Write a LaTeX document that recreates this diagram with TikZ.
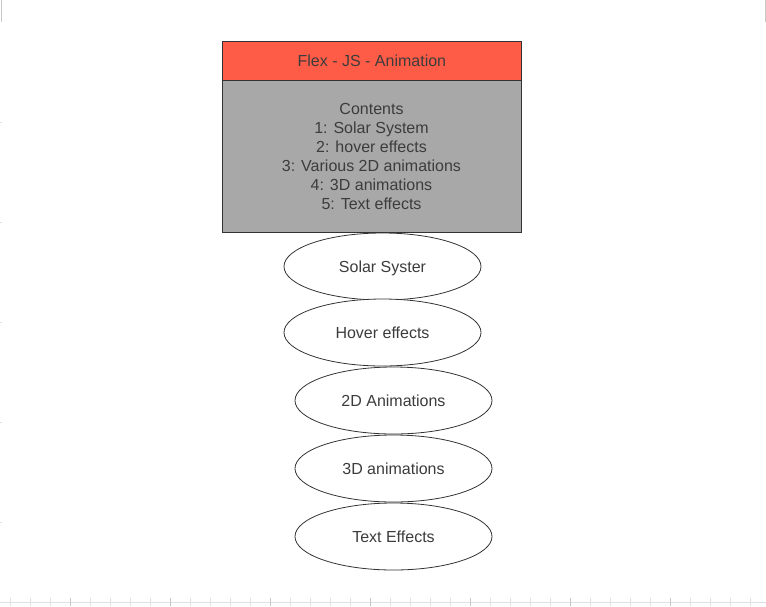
\documentclass[tikz,border=0pt]{standalone}
\usepackage{fontspec}
\setmainfont{Liberation Sans}
\usetikzlibrary{shapes.geometric}
\definecolor{hdr}{HTML}{FF5C47}
\definecolor{body}{HTML}{A8A8A8}
\definecolor{txt}{HTML}{3C3C3C}
\definecolor{edge}{HTML}{333333}
\definecolor{rul}{HTML}{E0E0E0}
\definecolor{rulm}{HTML}{C8C8C8}
\tikzset{
  box/.style={draw=edge, line width=0.8pt, inner sep=0pt, text=txt, font=\fontsize{16}{19}\selectfont, align=center},
  oval/.style={ellipse, draw=edge, line width=0.8pt, inner sep=0pt, minimum width=197pt, minimum height=67pt, text=txt, font=\fontsize{16}{19}\selectfont, fill=white, text height=11.5pt, text depth=0.3pt},
  ruler/.style={draw=rul, line width=0.8pt},
  rulerm/.style={draw=rulm, line width=0.8pt}
}
\begin{document}
\begin{tikzpicture}[x=1pt,y=-1pt]
\useasboundingbox[fill=white] (0,0) rectangle (766,606);
% faint ruler artefacts
\draw[rulerm] (1,0) -- (1,22);
\draw[rulerm] (765,0) -- (765,22);
\draw[ruler] (0,602) -- (766,602);
\foreach \x in {10,30,...,750} {\draw[ruler] (\x,598) -- (\x,606);}
\foreach \x in {70,170,...,670} {\draw[rulerm] (\x,598) -- (\x,606);}
\foreach \y in {122,222,322,422,522} {\draw[ruler] (0,\y) -- (2,\y);}
% main box
\node[box, fill=body, minimum width=299pt, minimum height=152pt, anchor=north west] (body) at (222,80) {};
\node[align=center, text=txt, font=\fontsize{16}{19}\selectfont] (bodytxt) at (371.5,156) {Contents\\1: Solar System\\2: hover effects\\3: Various 2D animations\\4: 3D animations\\5: Text effects};
\node[box, fill=hdr, minimum width=299pt, minimum height=39pt, anchor=north west, text height=11.5pt, text depth=0.3pt] (hdr) at (222,41) {Flex - JS - Animation};
% ellipses
\node[oval] (e1) at (382.5,266.5) {Solar Syster};
\node[oval] (e2) at (382.5,332.5) {Hover effects};
\node[oval] (e3) at (393.5,400.5) {2D Animations};
\node[oval] (e4) at (393.5,468.5) {3D animations};
\node[oval] (e5) at (393.5,536.5) {Text Effects};
\end{tikzpicture}
\end{document}
